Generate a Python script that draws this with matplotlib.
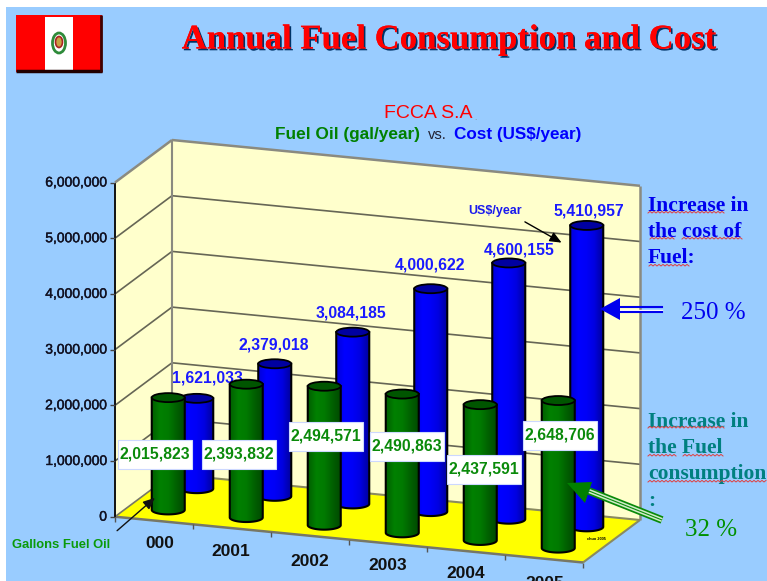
import numpy as np
import matplotlib
matplotlib.use("Agg")
import matplotlib.pyplot as plt
from matplotlib.colors import LinearSegmentedColormap
from matplotlib.patches import Polygon, Rectangle, Ellipse
import matplotlib.patheffects as pe

# data
years = ["000", "2001", "2002", "2003", "2004", "2005"]
fuel_gal = [2015823, 2393832, 2494571, 2490863, 2437591, 2648706]
cost_usd = [1621033, 2379018, 3084185, 4000622, 4600155, 5410957]
y_ticks = [0, 1000000, 2000000, 3000000, 4000000, 5000000, 6000000]

# label placement (pixels)
fuel_label_xy = [(155, 454), (239, 454), (326, 436), (407, 446), (484, 469), (559.5, 435)]
cost_label_xy = [(207, 378), (274, 345), (351, 313), (430, 265), (519, 250), (589, 211)]
year_label_xy = [(160, 543), (231, 551), (310, 562), (388, 566), (466, 574), (545, 583)]

SANS = "Liberation Sans"
SERIF = "Liberation Serif"
BG = "#99CCFF"

fig = plt.figure(figsize=(7.67, 5.81), dpi=100, facecolor="white")
ax = fig.add_axes([0, 0, 1, 1])
ax.axis("off")
ax.add_patch(Rectangle((6, 7), 770, 580, fc=BG, ec="none", zorder=0))


# oblique projection of the 3d box to pixels
def proj(u, d, v):
    px = 115 + 468 * u + 57 * d
    py = 516.7 + 45.8 * u - 42.5 * d - 55.7 * v / 1e6
    return px, py


top = y_ticks[-1]
ax.add_patch(Polygon([proj(0, 0, 0), proj(0, 0, top), proj(0, 1, top), proj(0, 1, 0)],
                     fc="#FFFFCC", ec="none", zorder=1))
ax.add_patch(Polygon([proj(0, 1, 0), proj(0, 1, top), proj(1, 1, top), proj(1, 1, 0)],
                     fc="#FFFFCC", ec="none", zorder=1))
ax.add_patch(Polygon([proj(0, 0, 0), proj(0, 1, 0), proj(1, 1, 0), proj(1, 0, 0)],
                     fc="#FFFF00", ec="none", zorder=1))


def seg(a, b, color="#666655", lw=1.2, z=2):
    ax.plot([a[0], b[0]], [a[1], b[1]], color=color, lw=lw, zorder=z, solid_capstyle="butt")


# grid
for t in y_ticks[1:-1]:
    seg(proj(0, 0, t), proj(0, 1, t))
    seg(proj(0, 1, t), proj(1, 1, t))
# box edges
seg(proj(0, 0, top), proj(0, 1, top), "#8a8a80", 1.8)
seg(proj(0, 1, top), proj(1, 1, top), "#8a8a80", 1.8)
seg(proj(0, 1, 0), proj(0, 1, top), "#8a8a80", 1.5)
seg(proj(1, 1, 0), proj(1, 1, top), "#8a8a80", 1.8)
seg(proj(0, 1, 0), proj(1, 1, 0), "#8a8a60", 1.5)
seg(proj(1, 1, 0), proj(1, 0, 0), "#8a8a60", 1.5)
seg(proj(0, 0, 0), proj(1, 0, 0), "#777766", 1.8)
seg(proj(0, 0, 0), proj(0, 1, 0), "#777766", 1.2)
seg(proj(0, 0, 0), proj(0, 0, top), "#111111", 1.4)

# y axis
for t in y_ticks:
    x, y = proj(0, 0, t)
    seg((x - 5, y), (x, y), "#444444", 1.0)
    ax.text(x - 8, y, f"{t:,}", ha="right", va="center", family=SANS, fontsize=10,
            color="#111122", path_effects=[pe.withStroke(linewidth=0.3, foreground="#111122")])

# x ticks
for i in range(7):
    x, y = proj(i / 6, 0, 0)
    seg((x, y), (x, y + 5), "#555555", 1.0)

for lab, (x, y) in zip(years, year_label_xy):
    ax.text(x, y, lab, ha="center", va="center", family=SANS, fontsize=12.5,
            fontweight="bold", color="#111111", zorder=3)

green_cm = LinearSegmentedColormap.from_list("g", ["#006000", "#008000", "#007a00", "#006000", "#004a00"])
blue_cm = LinearSegmentedColormap.from_list("b", ["#0000d8", "#0000ff", "#0000f8", "#0000e0", "#0000a0"])


def cylinder(u, d, v, cm, cap, z):
    rx, ry = 16.5, 4.5
    cx, yb = proj(u, d, 0)
    yt = yb - 55.7 * v / 1e6
    ang = np.linspace(0, np.pi, 40)
    pts = [(cx + rx, yt)] + list(zip(cx + rx * np.cos(ang), yb + ry * np.sin(ang))) + [(cx - rx, yt)]
    body = Polygon(pts, closed=True, fc="none", ec="black", lw=1.5, zorder=z + 0.2)
    ax.add_patch(body)
    im = ax.imshow(np.linspace(0, 1, 64).reshape(1, -1), extent=[cx - rx, cx + rx, yb + ry, yt],
                   cmap=cm, aspect="auto", zorder=z)
    im.set_clip_path(Polygon(pts, closed=True, transform=ax.transData))
    ax.add_patch(Ellipse((cx, yt), 2 * rx, 2 * ry, fc=cap, ec="black", lw=1.3, zorder=z + 0.3))


# back row first, then labels, then front row
for i, v in enumerate(cost_usd):
    cylinder((i + 0.5) / 6, 0.75, v, blue_cm, "#0000a0", 4 + i * 0.01)
for v, (x, y) in zip(cost_usd, cost_label_xy):
    ax.text(x, y, f"{v:,}", ha="center", va="center", family=SANS, fontsize=11.3,
            fontweight="bold", color="#1a1aff", zorder=5)
for i, v in enumerate(fuel_gal):
    cylinder((i + 0.5) / 6, 0.25, v, green_cm, "#005500", 6 + i * 0.01)
for v, (x, y) in zip(fuel_gal, fuel_label_xy):
    ax.add_patch(Rectangle((x - 37, y - 14.5), 74, 29, fc="white", ec="#ccd8ff", lw=0.8, zorder=8))
    ax.text(x, y, f"{v:,}", ha="center", va="center", family=SANS, fontsize=11.3,
            fontweight="bold", color="#0a8a0a", zorder=8.1)

# titles
ax.text(449, 40, "Annual Fuel Consumption and Cost", ha="center", va="center",
        family=SERIF, fontsize=25, fontweight="bold", color="#FF0000", zorder=9,
        path_effects=[pe.withSimplePatchShadow(offset=(1.3, -1.3), shadow_rgbFace="#003366", alpha=1),
                      pe.Normal()])
ax.text(428, 113, "FCCA S.A", ha="center", va="center", family=SANS, fontsize=14, color="#FF0000")
ax.text(474, 119, ".", ha="left", va="center", family=SANS, fontsize=6, color="#888888")
ax.text(420, 135, "Fuel Oil (gal/year)", ha="right", va="center", family=SANS, fontsize=12.4,
        fontweight="bold", color="#008000")
ax.text(437, 135, "vs.", ha="center", va="center", family=SANS, fontsize=10.5, color="#222233")
ax.text(454, 135, "Cost (US$/year)", ha="left", va="center", family=SANS, fontsize=12.3,
        fontweight="bold", color="#0000FF")

# flag
ax.add_patch(Rectangle((16, 15), 86, 57, fc="#FF0000", ec="none", zorder=2))
ax.add_patch(Rectangle((45, 17), 28, 53, fc="white", ec="none", zorder=2))
seg((16, 71), (102, 71), "#200000", 2.5, 3)
seg((101, 15), (101, 72), "#400000", 2, 3)
ax.add_patch(Ellipse((59, 43), 13, 20, fc="none", ec="#2e8b3a", lw=2, zorder=3))
ax.add_patch(Ellipse((59, 42), 7, 11, fc="#c8a040", ec="#aa2222", lw=1.2, zorder=3))

# side notes
notes = [("Increase in", 206, "#0000EE"), ("the cost of", 232, "#0000EE"), ("Fuel:", 258, "#0000EE"),
         ("Increase in", 422, "#008080"), ("the Fuel", 448, "#008080"), ("consumption", 474, "#008080"),
         (":", 501, "#008080")]
for s, y, c in notes:
    ax.text(648, y, s, ha="left", va="center", family=SERIF, fontsize=15.5, fontweight="bold", color=c, zorder=9)
ax.text(713, 313, "250 %", ha="center", va="center", family=SERIF, fontsize=18, color="#0000EE", zorder=9)
ax.text(711, 530, "32 %", ha="center", va="center", family=SERIF, fontsize=18, color="#009000", zorder=9)


# spell check squiggles
def squiggle(x0, x1, y):
    xs = np.arange(x0, x1 + 1, 2)
    ys = y + np.where(np.arange(len(xs)) % 2 == 0, 1, -0.6)
    ax.plot(xs, ys, color="#e04040", lw=0.7, zorder=9)


for x0, x1, y in [(648, 725, 212), (650, 675, 238), (682, 742, 238), (649, 689, 265),
                  (648, 725, 427), (648, 677, 455), (683, 723, 455), (648, 767, 481)]:
    squiggle(x0, x1, y)

# arrows
ax.plot([620, 662], [306.5, 306.5], color="#0000EE", lw=1.5, zorder=9)
ax.plot([620, 662], [309.5, 309.5], color="white", lw=1, zorder=9)
ax.plot([620, 662], [312, 312], color="#0000EE", lw=1.5, zorder=9)
ax.add_patch(Polygon([(600, 309), (620, 298), (620, 320)], fc="#0000EE", ec="none", zorder=9))

ax.plot([589, 662], [491, 520], color="#0a8a0a", lw=5.5, zorder=9, solid_capstyle="butt")
ax.plot([589, 662], [491, 520], color="#d0ecc8", lw=3, zorder=9.05, solid_capstyle="butt")
ax.plot([589, 662], [491, 520], color="#0a8a0a", lw=0.8, zorder=9.1, solid_capstyle="butt")
ax.add_patch(Polygon([(567, 483), (592, 482), (585, 503)], fc="#008000", ec="none", zorder=9.2))

ax.annotate("", xy=(564, 244), xytext=(522.5, 220.5), zorder=9,
            arrowprops=dict(arrowstyle="-|>,head_width=0.3,head_length=0.7", color="black", lw=1))
ax.annotate("", xy=(157, 496), xytext=(115, 532.5), zorder=9,
            arrowprops=dict(arrowstyle="-|>,head_width=0.3,head_length=0.7", color="#111111", lw=1))
ax.text(495, 211, "US$/year", ha="center", va="center", family=SANS, fontsize=9,
        fontweight="bold", color="#1a1aee", zorder=9)
ax.text(61, 545, "Gallons Fuel Oil", ha="center", va="center", family=SANS, fontsize=9.4,
        fontweight="bold", color="#0a9a0a", zorder=9)
ax.text(596.5, 539, "chuo 2005", ha="center", va="center", family=SANS, fontsize=2.8,
        fontweight="bold", color="black", zorder=9)

ax.set_xlim(0, 767)
ax.set_ylim(581, 0)
fig.savefig("out.png", dpi=100, facecolor="white")
